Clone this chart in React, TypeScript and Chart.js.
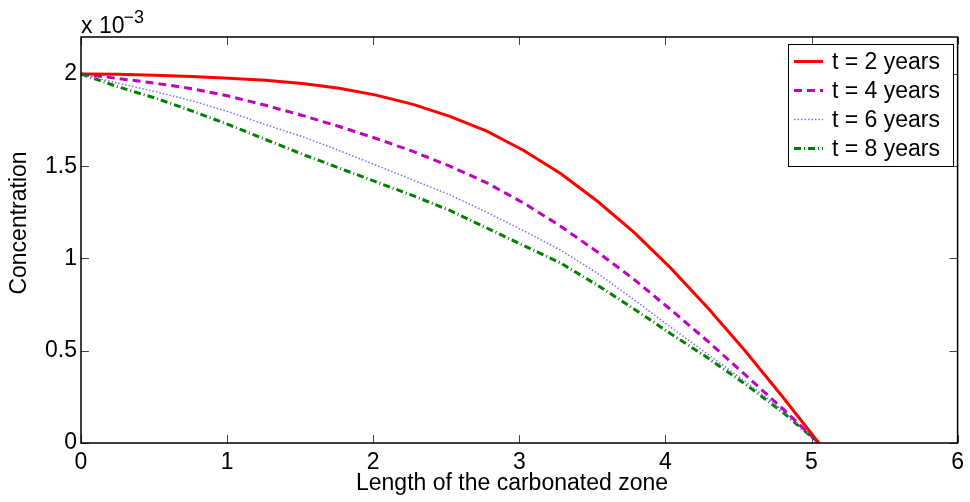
import React, { useEffect, useRef } from "react";
import { Chart, registerables } from "chart.js";

Chart.register(...registerables);

// ---- data (concentration in units of 1e-3) ----
const lengths = [0, 0.2525, 0.505, 0.7575, 1.01, 1.2625, 1.515, 1.7675, 2.02, 2.2725, 2.525, 2.7775, 3.03, 3.2825, 3.535, 3.7875, 4.04, 4.2925, 4.545, 4.7975, 5.05];
const concT2 = [2.0, 1.998, 1.993, 1.986, 1.977, 1.965, 1.948, 1.922, 1.885, 1.835, 1.77, 1.69, 1.585, 1.46, 1.31, 1.14, 0.945, 0.73, 0.5, 0.255, 0.0];
const concT4 = [2.0, 1.975, 1.95, 1.92, 1.88, 1.83, 1.775, 1.715, 1.65, 1.58, 1.5, 1.41, 1.3, 1.175, 1.035, 0.885, 0.72, 0.55, 0.37, 0.19, 0.0];
const concT6 = [2.0, 1.95, 1.905, 1.855, 1.795, 1.725, 1.66, 1.585, 1.505, 1.425, 1.345, 1.25, 1.15, 1.045, 0.92, 0.775, 0.625, 0.48, 0.335, 0.18, 0.0];
const concT8 = [2.0, 1.93, 1.87, 1.8, 1.725, 1.645, 1.565, 1.49, 1.415, 1.34, 1.26, 1.165, 1.07, 0.975, 0.855, 0.725, 0.59, 0.46, 0.32, 0.17, 0.0];
const seriesLabels = ["t = 2 years", "t = 4 years", "t = 6 years", "t = 8 years"];
const xTicks = [0, 1, 2, 3, 4, 5, 6];
const yTicks = [0, 0.5, 1, 1.5, 2];
const xTitle = "Length of the carbonated zone";
const yTitle = "Concentration";
const expBase = "x 10";
const expPower = "\u22123";

const FONT = "'Liberation Sans', Arial, Helvetica, sans-serif";

const matlabPlugin = {
  id: "matlabAxes",
  afterDatasetsDraw(chart: any) {
    const { ctx, chartArea: a, scales } = chart;
    const x = scales.x;
    const y = scales.y;
    ctx.save();
    // inside ticks on all four sides
    ctx.strokeStyle = "#444";
    ctx.lineWidth = 1;
    const tl = 8;
    ctx.beginPath();
    xTicks.forEach((v) => {
      const px = Math.round(x.getPixelForValue(v)) + 0.5;
      ctx.moveTo(px, a.bottom);
      ctx.lineTo(px, a.bottom - tl);
      ctx.moveTo(px, a.top);
      ctx.lineTo(px, a.top + tl);
    });
    yTicks.forEach((v) => {
      const py = Math.round(y.getPixelForValue(v)) + 0.5;
      ctx.moveTo(a.left, py);
      ctx.lineTo(a.left + tl, py);
      ctx.moveTo(a.right, py);
      ctx.lineTo(a.right - tl, py);
    });
    ctx.stroke();
    // box
    ctx.strokeStyle = "#000";
    ctx.lineWidth = 1.5;
    ctx.strokeRect(a.left, a.top, a.right - a.left, a.bottom - a.top);

    // axis titles
    ctx.fillStyle = "#000";
    ctx.font = `23px ${FONT}`;
    ctx.textAlign = "center";
    ctx.textBaseline = "middle";
    ctx.fillText(xTitle, 512, 484);
    ctx.save();
    ctx.translate(20, 223);
    ctx.rotate(-Math.PI / 2);
    ctx.fillText(yTitle, 0, 0);
    ctx.restore();

    // exponent label
    ctx.textAlign = "left";
    ctx.textBaseline = "alphabetic";
    ctx.font = `23px ${FONT}`;
    ctx.fillText(expBase, a.left, 33);
    const w = ctx.measureText(expBase).width;
    ctx.font = `18px ${FONT}`;
    ctx.fillText(expPower, a.left + w - 1, 23);

    // legend
    const lx = 788, ly = 44, lw = 165, lh = 122;
    ctx.fillStyle = "#fff";
    ctx.fillRect(lx, ly, lw, lh);
    ctx.strokeStyle = "#000";
    ctx.lineWidth = 1;
    ctx.strokeRect(lx + 0.5, ly + 0.5, lw, lh);
    const rows = [61.5, 90.5, 119.5, 148.5];
    chart.data.datasets.forEach((ds: any, i: number) => {
      const ry = rows[i];
      ctx.save();
      ctx.strokeStyle = ds.borderColor;
      ctx.lineWidth = ds.borderWidth;
      ctx.setLineDash(ds.borderDash || []);
      ctx.beginPath();
      ctx.moveTo(794, ry);
      ctx.lineTo(823, ry);
      ctx.stroke();
      ctx.restore();
      ctx.fillStyle = "#000";
      ctx.font = `23px ${FONT}`;
      ctx.textAlign = "left";
      ctx.textBaseline = "middle";
      ctx.fillText(ds.label, 832, ry + 1);
    });
    ctx.restore();
  },
};

function makePoints(ys: number[]) {
  return lengths.map((xv, i) => ({ x: xv, y: ys[i] }));
}

export default function App() {
  const ref = useRef<HTMLCanvasElement | null>(null);
  useEffect(() => {
    if (!ref.current) return;
    const chart = new Chart(ref.current, {
      type: "line",
      data: {
        datasets: [
          { label: seriesLabels[0], data: makePoints(concT2), borderColor: "#ff0000", borderWidth: 3, borderDash: [], pointRadius: 0, tension: 0, fill: false },
          { label: seriesLabels[1], data: makePoints(concT4), borderColor: "#bf00bf", borderWidth: 3, borderDash: [8, 5], pointRadius: 0, tension: 0, fill: false },
          { label: seriesLabels[2], data: makePoints(concT6), borderColor: "#7070ff", borderWidth: 1.5, borderDash: [1.5, 2], pointRadius: 0, tension: 0, fill: false },
          { label: seriesLabels[3], data: makePoints(concT8), borderColor: "#008000", borderWidth: 3, borderDash: [7, 3, 1, 3], pointRadius: 0, tension: 0, fill: false },
        ],
      },
      options: {
        responsive: false,
        animation: false,
        layout: { padding: { top: 37, right: 10, left: 0, bottom: 0 } },
        plugins: { legend: { display: false }, tooltip: { enabled: false } },
        scales: {
          x: {
            type: "linear",
            min: 0,
            max: 6,
            afterFit: (s: any) => { s.height = 59; },
            afterBuildTicks: (s: any) => { s.ticks = xTicks.map((v) => ({ value: v })); },
            grid: { display: false, drawTicks: false },
            border: { display: false },
            ticks: { color: "#000", font: { family: FONT, size: 23 }, padding: 6, maxRotation: 0, autoSkip: false },
          },
          y: {
            type: "linear",
            min: 0,
            max: 2.2,
            afterFit: (s: any) => { s.width = 81; },
            afterBuildTicks: (s: any) => { s.ticks = yTicks.map((v) => ({ value: v })); },
            grid: { display: false, drawTicks: false },
            border: { display: false },
            ticks: { color: "#000", font: { family: FONT, size: 23 }, padding: 4, autoSkip: false, callback: (v: any) => String(v) },
          },
        },
      },
      plugins: [matlabPlugin],
    });
    return () => chart.destroy();
  }, []);
  return (
    <div style={{ position: "absolute", left: 0, top: 0, width: 970, height: 502, background: "#fff" }}>
      <canvas ref={ref} width={970} height={502} style={{ display: "block" }} />
    </div>
  );
}
